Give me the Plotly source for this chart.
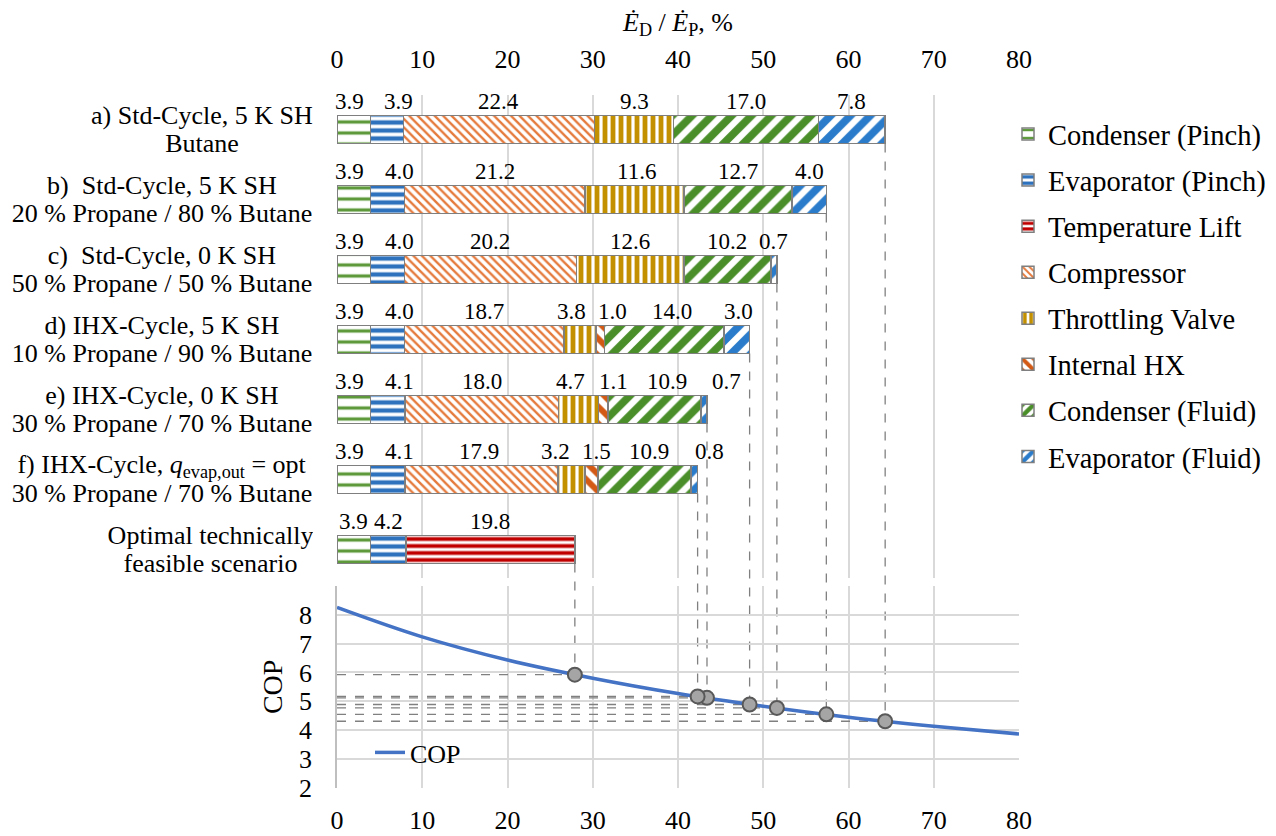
import plotly.graph_objects as go

# ---------------- data ----------------
cat_ids = ["a", "b", "c", "d", "e", "f", "opt"]
label_line1 = [
    "a) Std-Cycle, 5 K SH",
    "b)  Std-Cycle, 5 K SH",
    "c)  Std-Cycle, 0 K SH",
    "d) IHX-Cycle, 5 K SH",
    "e) IHX-Cycle, 0 K SH",
    "f) IHX-Cycle, <i>q</i><sub>evap,out</sub> = opt",
    "Optimal technically",
]
label_line2 = [
    "Butane",
    "20 % Propane / 80 % Butane",
    "50 % Propane / 50 % Butane",
    "10 % Propane / 90 % Butane",
    "30 % Propane / 70 % Butane",
    "30 % Propane / 70 % Butane",
    "feasible scenario",
]

components = ["Condenser (Pinch)", "Evaporator (Pinch)", "Temperature Lift", "Compressor",
              "Throttling Valve", "Internal HX", "Condenser (Fluid)", "Evaporator (Fluid)"]
cond_pinch = [3.9, 3.9, 3.9, 3.9, 3.9, 3.9, 3.9]
evap_pinch = [3.9, 4.0, 4.0, 4.0, 4.1, 4.1, 4.2]
temp_lift = [None, None, None, None, None, None, 19.8]
compressor = [22.4, 21.2, 20.2, 18.7, 18.0, 17.9, None]
throttling = [9.3, 11.6, 12.6, 3.8, 4.7, 3.2, None]
internal_hx = [None, None, None, 1.0, 1.1, 1.5, None]
cond_fluid = [17.0, 12.7, 10.2, 14.0, 10.9, 10.9, None]
evap_fluid = [7.8, 4.0, 0.7, 3.0, 0.7, 0.8, None]
series = [cond_pinch, evap_pinch, temp_lift, compressor, throttling, internal_hx, cond_fluid, evap_fluid]

# COP curve
cop_x = [0, 10, 20, 30, 40, 50, 60, 70, 80]
cop_y = [8.25, 7.23, 6.43, 5.80, 5.27, 4.83, 4.45, 4.14, 3.87]
# COP of each scenario (a..f, optimal)
cop_points = [4.31, 4.55, 4.77, 4.89, 5.12, 5.17, 5.92]

x_ticks = [0, 10, 20, 30, 40, 50, 60, 70, 80]
cop_ticks = [2, 3, 4, 5, 6, 7, 8]

# ---------------- styles ----------------
styles = [
    dict(shape="-", fg="#5E9A3C", size=11, sol=0.3),
    dict(shape="-", fg="#2E72BE", size=8, sol=0.55),
    dict(shape="-", fg="#C00000", size=7, sol=0.55),
    dict(shape="\\", fg="#E57A3C", size=6, sol=0.4),
    dict(shape="|", fg="#C39000", size=8, sol=0.6),
    dict(shape="\\", fg="#D25A14", size=12, sol=0.5),
    dict(shape="/", fg="#4A8E2A", size=14, sol=0.55),
    dict(shape="/", fg="#2A7CCB", size=14, sol=0.55),
]
label_box_w = [222, 302, 302, 302, 302, 302, 205]
# horizontal pixel nudges of the value labels (per row, per drawn segment)
label_dx = [
    [-4, 12, 0, 0, 0, 0],
    [-4, 12, 0, 2, 0, 0],
    [-4, 12, 0, 0, 0, 0],
    [-4, 12, 0, -8, 12, 8, 2],
    [-4, 12, 0, -8, 10, 12, 22],
    [-4, 12, -3, -16, 5, 5, 15],
    [0, 0, 0],
]

FONT = "Liberation Serif"
OFF = 8                      # page body margin in the browser
W, H = 1276 - OFF, 836 - OFF
# plot area in screen pixels
X0, X1 = 337, 1019
Y0, Y1 = 60, 788
ML, MR = X0 - OFF, W - (X1 - OFF)
MT, MB = Y0 - OFF, H - (Y1 - OFF)
PW = X1 - X0
PH = Y1 - Y0


def py_paper(py):            # screen y -> paper y
    return (Y1 - py) / PH


def px_paper(px):            # screen x -> paper x
    return (px - X0) / PW


top_dom = [py_paper(578), py_paper(94.5)]
bot_dom = [0, py_paper(585.7)]
top_range = [6.407, -0.5]
cop_range = [2, 9]
bar_w = 0.4


def top_paper(v):
    return top_dom[0] + (v - top_range[0]) / (top_range[1] - top_range[0]) * (top_dom[1] - top_dom[0])


def cop_paper(c):
    return bot_dom[0] + (c - cop_range[0]) / (cop_range[1] - cop_range[0]) * (bot_dom[1] - bot_dom[0])


fig = go.Figure()

for k, (name, vals, st) in enumerate(zip(components, series, styles)):
    fig.add_trace(go.Bar(
        name=name, y=cat_ids, x=vals, orientation="h", width=bar_w,
        xaxis="x", yaxis="y", legend="legend", legendgroup=f"g{k}",
        marker=dict(color="white",
                    pattern=dict(shape=st["shape"], fgcolor=st["fg"], bgcolor="white",
                                 size=st["size"], solidity=st["sol"], fgopacity=1),
                    line=dict(color="#7F7F7F", width=1.5)),
        hoverinfo="skip",
    ))

# totals (bar ends)
totals = []
for i in range(len(cat_ids)):
    totals.append(round(sum(s[i] for s in series if s[i] is not None), 2))

# horizontal dashed lines in COP plot
hx, hy = [], []
for t, c in zip(totals, cop_points):
    hx += [0, t, None]
    hy += [c, c, None]
fig.add_trace(go.Scatter(x=hx, y=hy, mode="lines", xaxis="x2", yaxis="y2",
                         line=dict(color="#808080", width=1.3, dash="dash"),
                         showlegend=False, hoverinfo="skip"))

fig.add_trace(go.Scatter(x=cop_x, y=cop_y, mode="lines", name="COP", xaxis="x2", yaxis="y2",
                         line=dict(color="#4472C4", width=3.5, shape="spline"),
                         legend="legend2"))

fig.add_trace(go.Scatter(x=totals, y=cop_points, mode="markers", xaxis="x2", yaxis="y2",
                         marker=dict(size=14, color="#A5A5A5", line=dict(color="#595959", width=2)),
                         showlegend=False, hoverinfo="skip"))

# vertical dashed lines from bar ends down to COP markers
shapes = []
for i, (t, c) in enumerate(zip(totals, cop_points)):
    shapes.append(dict(type="line", xref="x", yref="paper", x0=t, x1=t,
                       y0=top_paper(i + bar_w / 2), y1=cop_paper(c),
                       line=dict(color="#808080", width=1.3, dash="dash"), layer="below"))

annotations = []
# value labels above segments
for i, cid in enumerate(cat_ids):
    start = 0.0
    j = 0
    for s in series:
        v = s[i]
        if v is None:
            continue
        annotations.append(dict(x=start + v / 2, y=cid, xref="x", yref="y", text=f"{v:.1f}",
                                showarrow=False, yshift=28, xshift=label_dx[i][j],
                                font=dict(size=23, color="black", family=FONT)))
        start += v
        j += 1

# category labels (two lines, centred on each other, right edge near the axis)
for cid, l1, l2, bw in zip(cat_ids, label_line1, label_line2, label_box_w):
    for txt, ys in ((l1, 14), (l2, -14)):
        annotations.append(dict(x=px_paper(315), y=cid, xref="paper", yref="y",
                                text=txt, showarrow=False, xanchor="right", align="center",
                                width=bw, yshift=ys,
                                font=dict(size=26, color="black", family=FONT)))

axis_common = dict(range=[0, 80], tickvals=x_ticks, showgrid=True, gridcolor="#D9D9D9", gridwidth=1.5,
                   zeroline=False, showline=False, ticks="", automargin=False,
                   tickfont=dict(size=26, color="black", family=FONT))

fig.update_layout(
    width=W, height=H, margin=dict(l=ML, r=MR, t=MT, b=MB, autoexpand=False),
    paper_bgcolor="white", plot_bgcolor="rgba(0,0,0,0)",
    barmode="stack", font=dict(family=FONT, color="black"),
    xaxis=dict(**axis_common, side="top", anchor="y", ticklabelstandoff=20,
               title=dict(text="<i>Ė</i><sub>D</sub> / <i>Ė</i><sub>P</sub>, %",
                          font=dict(size=26, color="black", family=FONT), standoff=6)),
    yaxis=dict(domain=top_dom, type="category", categoryorder="array", categoryarray=cat_ids,
               range=top_range, showticklabels=False, showgrid=False, zeroline=False, ticks="",
               anchor="x", automargin=False),
    xaxis2=dict(**axis_common, anchor="y2", matches="x", ticklabelstandoff=14),
    yaxis2=dict(domain=bot_dom, range=cop_range, tickvals=cop_ticks, showgrid=True, gridcolor="#D9D9D9",
                gridwidth=1.5, zeroline=False, showline=True, linecolor="#BFBFBF", linewidth=1.5, ticks="",
                tickfont=dict(size=26, color="black", family=FONT), ticklabelstandoff=18,
                title=dict(text="COP", font=dict(size=28, color="black", family=FONT), standoff=8),
                anchor="x2", automargin=False),
    legend=dict(x=px_paper(1008), y=py_paper(109), xanchor="left", yanchor="top",
                bgcolor="rgba(0,0,0,0)", font=dict(size=28.5, color="black", family=FONT),
                traceorder="grouped", tracegroupgap=6),
    legend2=dict(x=px_paper(370), y=py_paper(729), xanchor="left", yanchor="top",
                 bgcolor="rgba(0,0,0,0)", font=dict(size=26, color="black", family=FONT)),
    shapes=shapes, annotations=annotations, showlegend=True,
)

fig.write_html("out.html")
